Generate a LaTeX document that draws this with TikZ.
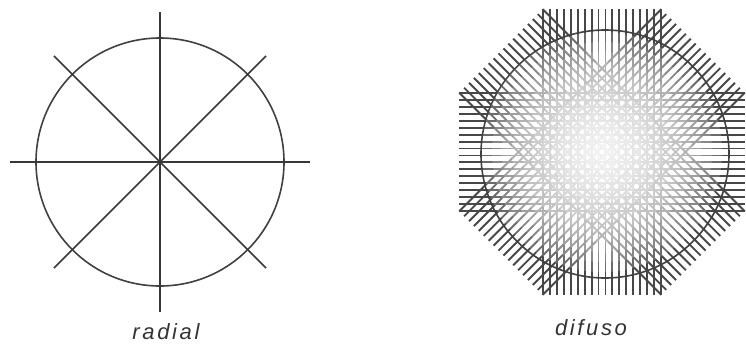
\documentclass[tikz,border=0pt]{standalone}
\usepackage{fontspec}
\setsansfont{Liberation Sans}

\begin{document}
\begin{tikzpicture}[
    x=1pt, y=-1pt,
    ray/.style={line width=1.6pt, draw=black!78},
    rim/.style={line width=1.6pt, draw=black!75},
    hatch/.style={line width=1.9pt, draw=black!72},
    haze/.style={fill=white, fill opacity=0.2},
    caption/.style={font=\sffamily\itshape\fontsize{22}{24}\selectfont\addfontfeature{LetterSpace=12}, text=black!80}
]
\useasboundingbox (0,0) rectangle (746,343);

% radial
\coordinate (rc) at (160,162);
\draw[rim] (rc) circle[radius=124];
\foreach \a in {0,45,...,315}
  \draw[ray] (rc) -- ++(\a:150);
\node[caption] (radiallbl) at (166,332) {radial};

% difuso
\coordinate (dc) at (602,152);
\foreach \a in {0,45,90,135}
  \foreach \i in {0,...,17}{
    \pgfmathsetmacro{\s}{-59+\i*118/17}
    \begin{scope}[shift={(dc)}, rotate=\a]
      \draw[hatch] (-143,\s) -- (143,\s);
    \end{scope}
  }
\draw[rim] (605,154) circle[radius=124];
% washed-out middle
\foreach \r in {120,110,...,10}
  \fill[haze] (dc) circle[radius=\r];
\node[caption] (difusolbl) at (591,328) {difuso};
\end{tikzpicture}
\end{document}
